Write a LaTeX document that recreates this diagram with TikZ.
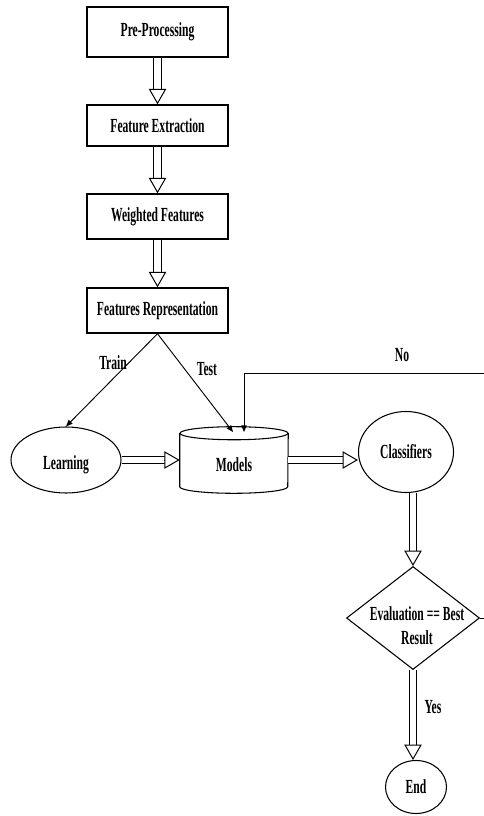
\documentclass[tikz,border=0pt]{standalone}
\usepackage{fontspec}
\newfontfamily\flowfont{Liberation Serif}[FakeStretch=0.58]
\usetikzlibrary{calc,shapes.geometric,arrows.meta}

% hollow block arrow between two named points
\newcommand{\hollowarrow}[2]{%
 \draw[hollow shaft] (#1) -- (#2);
 \draw[hollow head] ($(#2)!11.5pt!(#1)$) -- (#2);
}

\begin{document}
\begin{tikzpicture}[x=0.75pt,y=-0.75pt,
 every node/.style={font=\flowfont\bfseries\fontsize{15}{18}\selectfont},
 stepbox/.style={draw,line width=1.1pt,minimum width=105.75pt,inner sep=0pt},
 oval/.style={draw,ellipse,line width=0.8pt,inner sep=0pt},
 hollow shaft/.style={line width=0.75pt,double,double distance=4.6pt,shorten >=11pt},
 hollow head/.style={line width=0.75pt,-{Triangle[length=11.5pt,width=13pt,fill=white]}},
 thin arrow/.style={line width=0.7pt,-{Triangle[length=5pt,width=4pt]}}]

 \clip (0,0) rectangle (484,816);

 % processing chain
 \node[stepbox,minimum height=37.5pt] (pre) at (157.5,32) {Pre-Processing};
 \node[stepbox,minimum height=30.75pt] (fext) at (157.5,125.5) {Feature Extraction};
 \node[stepbox,minimum height=33.75pt] (wfeat) at (157.5,216.5) {Weighted Features};
 \node[stepbox,minimum height=33.75pt] (frep) at (157.5,310.5) {Features Representation};

 \hollowarrow{pre.south}{fext.north}
 \hollowarrow{fext.south}{wfeat.north}
 \hollowarrow{wfeat.south}{frep.north}

 % learning and models
 \node[oval,minimum width=82.5pt,minimum height=49.5pt] (learn) at (66,460) {};
 \node (learntext) at (66,465) {Learning};
 \node[minimum width=81pt,minimum height=49.5pt,inner sep=0pt] (models) at (234,460) {};
 \draw[line width=0.8pt] ($(models.north west)+(0,6.5)$) -- ($(models.south west)+(0,-6.5)$)
  arc[start angle=180,end angle=360,x radius=40.5pt,y radius=4.9pt]
  -- ($(models.north east)+(0,6.5)$);
 \draw[line width=0.8pt] ($(models.north)+(0,6.5)$) ellipse [x radius=40.5pt,y radius=4.9pt];
 \node (modeltext) at (234,465) {Models};
 \node[oval,minimum width=71.25pt,minimum height=60.75pt] (class) at (406,452) {Classifiers};

 \coordinate (testin) at ($(models.center)+(-1,-28)$);
 \coordinate (noin) at ($(models.center)+(10,-28)$);
 \coordinate (classin) at (models.east -| class.west);

 \draw[thin arrow] (frep.south) -- (learn.north);
 \draw[thin arrow] (frep.south) -- (testin);
 \node (train) at (113,363) {Train};
 \node (test) at (207,369) {Test};

 \hollowarrow{learn.east}{models.west}
 \hollowarrow{models.east}{classin}

 % evaluation
 \node[draw,diamond,line width=0.8pt,minimum width=99.75pt,minimum height=77.25pt,inner sep=0pt] (eval) at (413,618) {};
 \node[align=center] (evaltext) at (417,626) {Evaluation == Best\\Result};
 \node[oval,minimum width=45.75pt,minimum height=39.75pt] (end) at (416,787) {End};

 \coordinate (evalin) at (class.south -| eval.north);
 \coordinate (endin) at (eval.south |- end.north);
 \hollowarrow{evalin}{eval.north}
 \hollowarrow{eval.south}{endin}
 \node (yes) at (433,707) {Yes};

 % loop back
 \coordinate (noturn) at (492,373);
 \draw[thin arrow] (eval.east) -| (noturn) -| (noin);
 \node (no) at (402,355) {No};

\end{tikzpicture}
\end{document}
